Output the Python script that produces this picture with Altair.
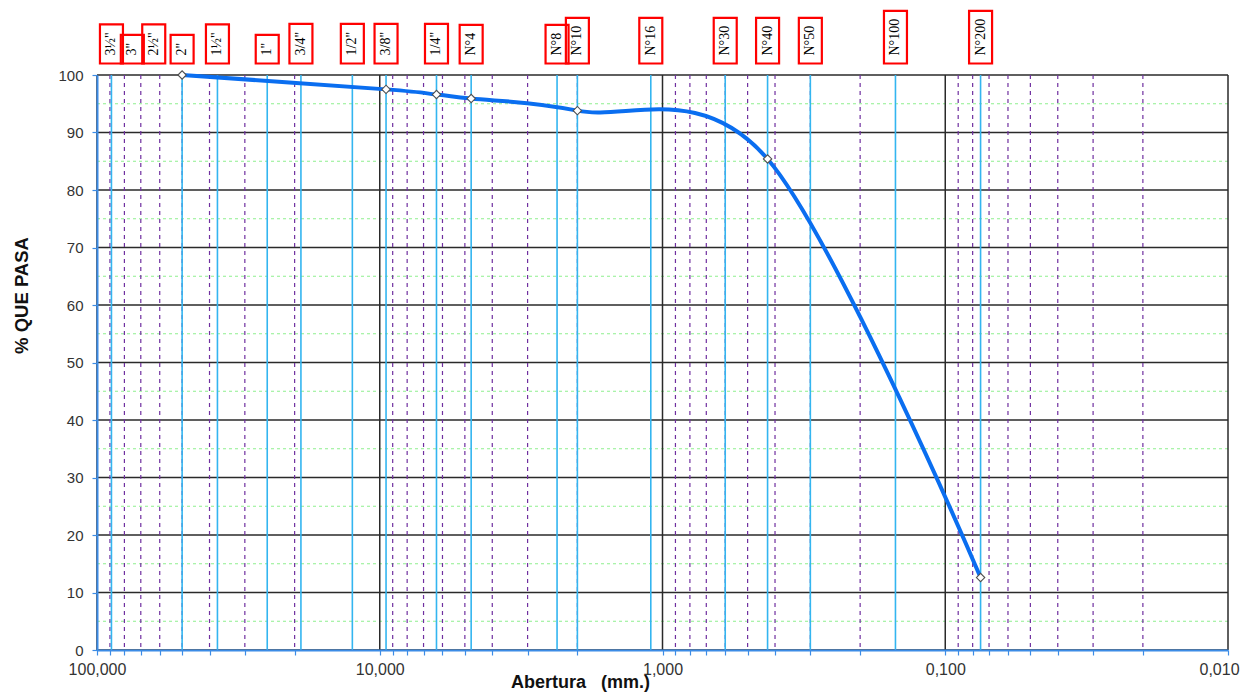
import altair as alt
import pandas as pd

# ---- data ----
sieve_labels = ['3½"', '3"', '2½"', '2"', '1½"', '1"', '3/4"', '1/2"', '3/8"', '1/4"',
                'N°4', 'N°8', 'N°10', 'N°16', 'N°30', 'N°40', 'N°50', 'N°100', 'N°200']
sieve_mm = [88.9, 75.0, 63.0, 50.0, 37.5, 25.0, 19.0, 12.5, 9.5, 6.3,
            4.75, 2.36, 2.00, 1.10, 0.60, 0.425, 0.30, 0.15, 0.075]
sieve_line = [True, False, False, True, True, True, True, True, True, True,
              True, True, True, True, True, True, True, True, True]

pass_mm = [50.0, 9.5, 6.3, 4.75, 2.00, 0.425, 0.075]
pass_pct = [100.0, 97.5, 96.6, 95.9, 93.8, 85.4, 12.6]

decades = [100, 10, 1, 0.1, 0.01]
minor = [round(k * 10.0 ** e, 6) for e in (1, 0, -1, -2) for k in range(2, 10)]
y_major = list(range(0, 101, 10))
y_minor = list(range(5, 100, 10))

# ---- styles ----
W, H = 1131, 575
AXIS_BLUE = "#3C8CE6"
SIEVE_BLUE = "#33B5F0"
PURPLE = "#7030A0"
GREEN = "#8FF08F"
BLACK = "#2a2a2a"
CURVE = "#0A6EF0"

glyph_em = {'"': 0.408, '½': 0.75, '/': 0.278, 'N': 0.722, '°': 0.4}
LBL_FS = 14
R = 50.0
half_w = 11.5


def box_path(label):
    tw = sum(glyph_em.get(c, 0.5) for c in label) * LBL_FS
    h = tw + 18 - 2
    return f"M{-half_w / R:.4f},{-h / R:.4f} L{half_w / R:.4f},{-h / R:.4f} L{half_w / R:.4f},0 L{-half_w / R:.4f},0 Z"


labels_df = pd.DataFrame({
    "label": sieve_labels,
    "mm": sieve_mm,
    "path": [box_path(s) for s in sieve_labels],
})
sieve_lines_df = pd.DataFrame({"mm": [m for m, f in zip(sieve_mm, sieve_line) if f]})
curve_df = pd.DataFrame({"mm": pass_mm, "pct": pass_pct})

xscale = alt.Scale(type="log", domain=[0.01, 100], reverse=True, nice=False)
yscale = alt.Scale(domain=[0, 100], nice=False, zero=False)

x_axis = alt.Axis(
    values=sorted(decades + minor),
    labelExpr="(datum.value == 100 || datum.value == 10 || datum.value == 1 || datum.value == 0.1 || datum.value == 0.01) ? replace(format(datum.value, '.3f'), '.', ',') : ''",
    labelFlush=False, labelOverlap=False,
    labelOffset={"condition": {"test": "datum.value < 0.02", "value": -9}, "value": 0},
    labelFont="Liberation Sans", labelFontSize=16, labelColor="#333333", labelPadding=6,
    domainColor=AXIS_BLUE, domainWidth=2, tickColor=AXIS_BLUE, tickSize=5, tickWidth=1.2,
    grid=False, zindex=1,
    title="Abertura\u00a0\u00a0\u00a0(mm.)", titleFont="Liberation Sans", titleFontSize=18,
    titleFontWeight="bold", titleColor="#111111", titleX=483, titleY=32,
    titleAlign="center", titleBaseline="middle",
)
y_axis = alt.Axis(
    values=y_major,
    labelFont="Liberation Sans", labelFontSize=15, labelColor="#333333", labelPadding=9,
    domainColor=AXIS_BLUE, domainWidth=2, tickColor=AXIS_BLUE, tickSize=5, tickWidth=1.2,
    grid=False, zindex=1,
    title="% QUE PASA", titleFont="Liberation Sans", titleFontSize=18.5, titleFontWeight="bold",
    titleColor="#111111", titleX=-76, titleY=220,
    titleAlign="center", titleBaseline="middle",
)


def X(field):
    return alt.X(field, scale=xscale, axis=x_axis)


def Y(field):
    return alt.Y(field, scale=yscale, axis=y_axis)


h_minor = alt.Chart(pd.DataFrame({"v": y_minor})).mark_rule(
    color=GREEN, strokeDash=[3, 3], strokeWidth=1.2
).encode(y=Y("v:Q"))

h_major = alt.Chart(pd.DataFrame({"v": y_major})).mark_rule(
    color=BLACK, strokeWidth=1.4
).encode(y=Y("v:Q"))

v_minor = alt.Chart(pd.DataFrame({"v": minor})).mark_rule(
    color=PURPLE, strokeDash=[4, 4], strokeWidth=1.2
).encode(x=X("v:Q"))

v_dec = alt.Chart(pd.DataFrame({"v": decades})).mark_rule(
    color=BLACK, strokeWidth=1.5
).encode(x=X("v:Q"))

v_sieve = alt.Chart(sieve_lines_df).mark_rule(
    color=SIEVE_BLUE, strokeWidth=1.6
).encode(x=X("mm:Q"))

curve = alt.Chart(curve_df).mark_line(
    interpolate="cardinal", color=CURVE, strokeWidth=4
).encode(x=X("mm:Q"), y=Y("pct:Q"))

points = alt.Chart(curve_df).mark_point(
    shape="diamond", filled=True, fill="white", stroke="#505050", strokeWidth=1.1,
    size=70, opacity=1
).encode(x=X("mm:Q"), y=Y("pct:Q"))

boxes = alt.Chart(labels_df).mark_point(
    filled=False, stroke="#FF0000", color="#FF0000", strokeWidth=2.2, size=R * R * 4, opacity=1
).encode(
    x=X("mm:Q"),
    y=alt.value(-11.5),
    shape=alt.Shape("path:N", scale=None, legend=None),
)

texts = alt.Chart(labels_df).mark_text(
    angle=270, align="left", baseline="middle", font="Liberation Serif",
    fontSize=LBL_FS, color="#000000"
).encode(
    x=X("mm:Q"),
    y=alt.value(-19.5),
    text="label:N",
)

chart = alt.layer(
    h_minor, h_major, v_minor, v_dec, v_sieve, curve, points, boxes, texts
).properties(
    width=W, height=H,
    autosize=alt.AutoSizeParams(type="none"),
    padding={"left": 89, "top": 67, "right": 15, "bottom": 42},
).configure_view(stroke=None)

chart.save("out.html", embed_options={"renderer": "svg", "actions": False})
